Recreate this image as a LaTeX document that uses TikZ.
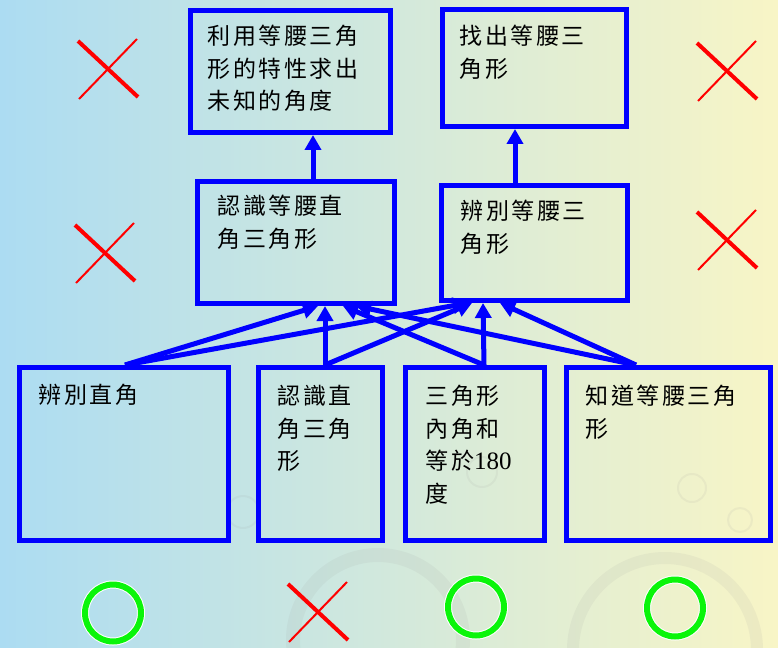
\documentclass[tikz,border=0pt]{standalone}
\usepackage{fontspec}
\setmainfont{Noto Sans CJK TC}[LetterSpace=11]
\newfontfamily\numfont{Liberation Serif}
\usepackage{tikz}
\usetikzlibrary{arrows.meta,positioning}
\definecolor{bgblue}{RGB}{172,220,242}
\definecolor{bgmid}{RGB}{214,236,222}
\definecolor{bgyellow}{RGB}{248,245,198}
\definecolor{okgreen}{RGB}{10,245,10}

\begin{document}
\begin{tikzpicture}[x=1pt,y=-1pt]
\tikzstyle{box}=[rectangle, draw=blue, line width=5pt, inner sep=0pt]
\tikzstyle{connect}=[-{Triangle[length=15pt,width=16pt]}, draw=blue, line width=5pt]
\tikzstyle{txt}=[anchor=north west, inner sep=0pt, align=left, font=\fontsize{23}{32.5}\selectfont]
\tikzstyle{wrong}=[draw=red, line cap=butt]
\tikzstyle{ok}=[draw=okgreen, line width=6pt]
\tikzstyle{deco}=[draw=black!40, opacity=0.1]
  \shade[left color=bgblue, middle color=bgmid, right color=bgyellow] (0,0) rectangle (778,647);
  \useasboundingbox (0,0) rectangle (778,647);
  % background rings
  \draw[deco, line width=14pt] (378,640) circle (85pt);
  \draw[deco, line width=12pt] (665,650) circle (92pt);
  \draw[deco, line width=2pt] (243,512) circle (16pt);
  \draw[deco, line width=2pt] (482,472) circle (15pt);
  \draw[deco, line width=2pt] (692,488) circle (14pt);
  \draw[deco, line width=2pt] (740,520) circle (12pt);

  \node[box, minimum width=200pt, minimum height=122pt] (useprop) at (290.5,71.5) {};
  \node[box, minimum width=184pt, minimum height=117pt] (findiso) at (534.5,68) {};
  \node[box, minimum width=197pt, minimum height=122pt] (knowrti) at (296,242.5) {};
  \node[box, minimum width=186pt, minimum height=115pt] (idiso) at (534.5,243) {};
  \node[box, minimum width=209pt, minimum height=173pt] (idright) at (124,454) {};
  \node[box, minimum width=124pt, minimum height=173pt] (knowrt) at (320.5,454) {};
  \node[box, minimum width=139pt, minimum height=173pt] (anglesum) at (475,454) {};
  \node[box, minimum width=204pt, minimum height=173pt] (knowiso) at (668.5,454) {};

  \node[txt] (useprop-t) at ([shift={(19.5,17)}]useprop.north west) {利用等腰三角\\形的特性求出\\未知的角度};
  \node[txt] (findiso-t) at ([shift={(19.5,18)}]findiso.north west) {找出等腰三\\角形};
  \node[txt] (knowrti-t) at ([shift={(22.5,16)}]knowrti.north west) {認識等腰直\\角三角形};
  \node[txt] (idiso-t) at ([shift={(21.5,17)}]idiso.north west) {辨別等腰三\\角形};
  \node[txt] (idright-t) at ([shift={(21.5,19)}]idright.north west) {辨別直角};
  \node[txt] (knowrt-t) at ([shift={(21.5,20)}]knowrt.north west) {認識直\\角三角\\形};
  \node[txt] (anglesum-t) at ([shift={(22.5,20)}]anglesum.north west) {三角形\\內角和\\等於{\numfont\fontsize{25}{32.5}\selectfont 180}\\度};
  \node[txt] (knowiso-t) at ([shift={(21.5,20)}]knowiso.north west) {知道等腰三角\\形};

  \path
        ([xshift=17pt]knowrti.north) edge [connect] ([xshift=22.5pt]useprop.south)
        ([xshift=-19.5pt]idiso.north) edge [connect] ([xshift=-19.5pt]findiso.south)
        ([xshift=1pt]idright.north) edge [connect] ([xshift=22pt]knowrti.south)
        ([xshift=1pt]idright.north) edge [connect] ([xshift=-66.5pt]idiso.south)
        ([xshift=4.5pt]knowrt.north) edge [connect] ([xshift=29pt]knowrti.south)
        ([xshift=4.5pt]knowrt.north) edge [connect] ([xshift=-62.5pt]idiso.south)
        ([xshift=9pt]anglesum.north) edge [connect] ([xshift=47pt]knowrti.south)
        ([xshift=9pt]anglesum.north) edge [connect] ([xshift=-51.5pt]idiso.south)
        ([xshift=-32.5pt]knowiso.north) edge [connect] ([xshift=60pt]knowrti.south)
        ([xshift=-32.5pt]knowiso.north) edge [connect] ([xshift=-34.5pt]idiso.south);

  % marks
  \foreach \x/\y in {108/69, 105/253, 727/71, 727/240, 318/612} {
    \draw[wrong, line width=4pt] (\x-30,\y-28) -- (\x+30,\y+28);
    \draw[wrong, line width=2pt] (\x+29,\y-30) -- (\x-29,\y+30);
  }
  \foreach \x/\y in {113/613, 476/607, 675/608} {
    \draw[white, line width=8pt] (\x,\y) ellipse (28pt and 28.5pt);
    \draw[ok] (\x,\y) ellipse (28pt and 28.5pt);
  }
\end{tikzpicture}
\end{document}
